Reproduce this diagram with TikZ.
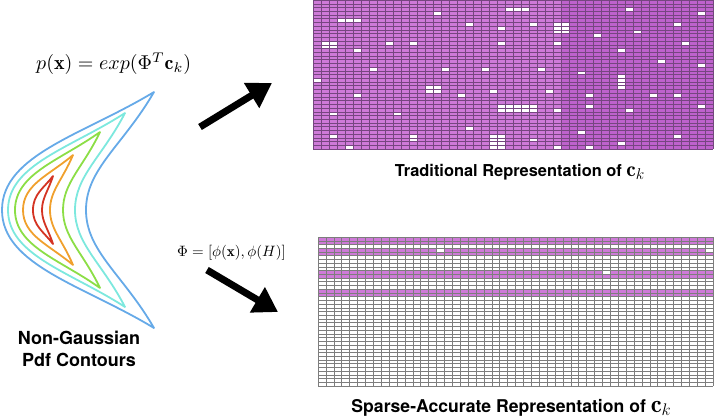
\documentclass[tikz,border=0pt]{standalone}
\usepackage{graphicx}
\usepackage{fontspec}
\newfontfamily\helv{TeX Gyre Heros}
\usetikzlibrary{arrows.meta, positioning}

\definecolor{gridpurple}{RGB}{206,122,216}
\definecolor{gridpurpledark}{RGB}{190,98,204}
\definecolor{gridlinedark}{RGB}{118,70,128}
\definecolor{gridlinegray}{RGB}{125,125,125}
\definecolor{cblue}{RGB}{102,170,232}
\definecolor{ccyan}{RGB}{125,232,222}
\definecolor{cgreen}{RGB}{140,222,70}
\definecolor{corange}{RGB}{240,160,45}
\definecolor{cred}{RGB}{212,52,35}

\tikzstyle{bigarrow} = [line width=7pt,-{Triangle[length=24pt,width=28pt]},draw=black]
\tikzstyle{contour} = [line width=1.8pt,line join=round]
\tikzstyle{caption} = [inner sep=0pt,outer sep=0pt,text centered]
\tikzstyle{gridbox} = [draw=none,inner sep=0pt,outer sep=0pt]

\begin{document}
\begin{tikzpicture}[x=1pt, y=-1pt]
        \useasboundingbox (0,0) rectangle (720,418);

        % contours of the pdf
        \foreach \h/\tx/\ox/\ix/\col in {118/154/2/86/cblue, 97/125/8/75/ccyan, 78/100/15/63/cgreen, 55/73/23/50/corange, 34/53/33/42/cred}
            \draw[contour, draw=\col] (\tx,{210-\h})
                .. controls ({\tx-0.46*(\tx-\ox)},{210-0.64*\h}) and (\ox,{210-0.47*\h}) .. (\ox,210)
                .. controls (\ox,{210+0.47*\h}) and ({\tx-0.46*(\tx-\ox)},{210+0.64*\h}) .. (\tx,{210+\h})
                .. controls ({\tx-0.45*(\tx-\ix)},{210+0.55*\h}) and (\ix,{210+0.35*\h}) .. (\ix,210)
                .. controls (\ix,{210-0.35*\h}) and ({\tx-0.45*(\tx-\ix)},{210-0.55*\h}) .. cycle;

        \node (pdfeq) [anchor=base west, inner sep=0pt] at (36,69.5) {\scalebox{2}{$p(\mathbf{x}) = exp(\Phi^T\mathbf{c}_k)$}};
        \node (contours) [caption, align=center, font=\helv\bfseries\fontsize{18}{22}\selectfont, anchor=base] at (79,366) {Non-Gaussian\\Pdf Contours};
        \node (basiseq) [anchor=base west, inner sep=0pt] at (177,256.5) {\scalebox{1.5}{$\Phi = [\phi(\mathbf{x}), \phi(H)]$}};

        % traditional c_k
        \node (topgrid) [gridbox, minimum width=400pt, minimum height=149pt] at (513,74.5) {};
        \fill[gridpurple] (313,0) rectangle (561,149);
        \fill[gridpurpledark] (561,0) rectangle (713,149);
        \foreach \c/\r in {15/3, 24/2, 25/2, 26/2, 39/2, 48/3, 3/5, 4/5, 5/5, 19/6, 23/7, 27/6, 30/6, 31/6, 30/7, 31/7, 30/8, 31/8,
                45/6, 40/8, 35/9, 1/11, 2/11, 1/12, 2/12, 9/11, 12/11, 23/11, 30/11, 46/11, 5/13, 38/13, 43/16, 48/17,
                7/18, 16/18, 21/18, 28/18, 33/19, 38/20, 38/21, 38/22, 38/23, 0/21, 14/23, 15/23, 14/24, 15/24, 22/24,
                29/24, 5/25, 18/25, 34/25, 42/25, 45/25, 23/28, 24/28, 25/28, 26/28, 27/28, 23/29, 24/29, 25/29, 26/29,
                27/29, 34/28, 48/28, 30/29, 39/29, 2/30, 10/30, 19/34, 33/35, 2/36, 12/36, 12/37, 45/36, 22/36, 23/36,
                22/37, 23/37, 22/38, 23/38, 22/39, 23/39, 27/37, 38/38, 4/39, 30/39, 34/39}
            \fill[white] ({313+8*\c},{3.725*\r}) rectangle ++(8,3.725);
        \foreach \c in {0,...,50}
            \draw[gridlinedark, line width=0.4pt] ({313+8*\c},0) -- ++(0,149);
        \foreach \r in {0,...,40}
            \draw[gridlinedark, line width=0.4pt] (313,{3.725*\r}) -- ++(400,0);
        \node (tradlabel) [caption, font=\helv\bfseries\fontsize{16.4}{20}\selectfont, below=15pt of topgrid, xshift=7pt] {Traditional Representation of \scalebox{1.3}{$\mathbf{c}_k$}};

        % sparse-accurate c_k
        \node (botgrid) [gridbox, minimum width=395pt, minimum height=149pt] at (515.5,311.5) {};
        \foreach \r in {0,1,3,4,9,10,14,15}
            \fill[gridpurple] (318,{237+3.725*\r}) rectangle ++(395,3.725);
        \foreach \c/\r in {15/3, 49/3, 36/9}
            \fill[white] ({318+7.9*\c},{237+3.725*\r}) rectangle ++(7.9,3.725);
        \foreach \c in {0,...,50}
            \draw[gridlinegray, line width=0.45pt] ({318+7.9*\c},237) -- ++(0,149);
        \foreach \r in {0,...,40}
            \draw[gridlinegray, line width=0.45pt] (318,{237+3.725*\r}) -- ++(395,0);
        \node (sparselabel) [caption, font=\helv\bfseries\fontsize{17.6}{21}\selectfont, below=13pt of botgrid, xshift=-4pt] {Sparse-Accurate Representation of \scalebox{1.4}{$\mathbf{c}_k$}};

        % arrows
        \coordinate (upstart) at (200,127);
        \coordinate (upend) at (272,83);
        \coordinate (downstart) at (207,270);
        \coordinate (downend) at (278,312);
        \draw[bigarrow] (upstart) -- (upend);
        \draw[bigarrow] (downstart) -- (downend);

\end{tikzpicture}
\end{document}
